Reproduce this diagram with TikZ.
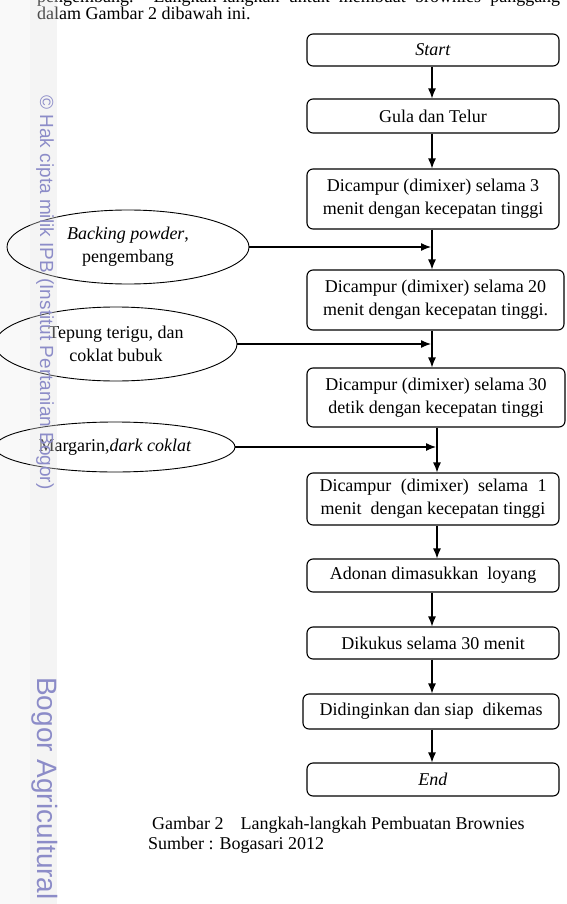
\documentclass[tikz,border=0pt]{standalone}
\usepackage{fontspec}
\setmainfont{Liberation Serif}
\newfontfamily\wmfont{Liberation Sans}
\usetikzlibrary{arrows.meta,shapes.geometric}
\definecolor{wm}{RGB}{140,140,200}
\begin{document}
\begin{tikzpicture}[x=1pt,y=-1pt,
  txt/.style={font=\fontsize{18}{23}\selectfont},
  box/.style={txt, draw, rounded corners=6pt, line width=1.1pt, minimum width=252pt, align=center, inner sep=2pt},
  ell/.style={txt, draw, ellipse, line width=0.9pt, align=center, inner sep=0pt},
  arr/.style={-{Latex[length=10pt,width=8pt]}, line width=1.2pt},
  plain/.style={txt, anchor=base west, inner sep=0pt},
  wmtxt/.style={rotate=-90, text=wm, inner sep=0pt}]
\useasboundingbox (0,0) rectangle (566,904);
\clip (0,0) rectangle (566,904);
\fill[gray!5] (0,0) rectangle (30,904);
\fill[gray!12] (30,0) rectangle (57,904);

% spine x positions
\coordinate (xa) at (432,0);
\coordinate (xb) at (437,0);

% top text
\node[plain] (t0) at (37,3) {\makebox[523pt][s]{pengembang. Langkah-langkah untuk membuat brownies panggang}};
\node[plain] (t1) at (37,20) {dalam Gambar 2 dibawah ini.};

% boxes
\node[box, minimum height=32pt] (start) at (433,50) {\textit{Start}};
\node[box, minimum height=34pt] (gula) at (433,116) {Gula dan Telur};
\node[box, minimum height=60pt] (d3) at (433,199) {Dicampur (dimixer) selama 3\\menit dengan kecepatan tinggi};
\node[box, minimum width=257pt, minimum height=60pt] (d20) at (435.5,300) {Dicampur (dimixer) selama 20\\menit dengan kecepatan tinggi.};
\node[box, minimum width=258pt, minimum height=59pt] (d30) at (436,397.5) {Dicampur (dimixer) selama 30\\detik dengan kecepatan tinggi};
\node[box, minimum height=52pt] (d1) at (433,499) {\makebox[227pt][s]{Dicampur (dimixer) selama 1}\\menit\ \ dengan kecepatan tinggi};
\node[box, minimum height=33pt] (adon) at (433,575.5) {Adonan dimasukkan\ \ loyang};
\node[box, minimum height=32pt] (kukus) at (433,643) {Dikukus selama 30 menit};
\node[box, minimum width=256pt, minimum height=35pt] (dingin) at (431,711.5) {Didinginkan dan siap\ \ dikemas};
\node[box, minimum height=33pt] (end) at (433,779.5) {\textit{End}};

% ellipses
\node[ell, minimum width=242pt, minimum height=74pt] (e1) at (128,247) {\textit{Backing powder},\\pengembang};
\node[ell, minimum width=242pt, minimum height=74pt] (e2) at (116,344) {Tepung terigu, dan\\coklat bubuk};
\node[ell, minimum width=240pt, minimum height=50pt] (e3) at (115,447) {Margarin,\textit{dark coklat}};

% connectors
\draw[arr] (start.south -| xa) -- (gula.north -| xa);
\draw[arr] (gula.south -| xa) -- (d3.north -| xa);
\draw[arr] (d3.south -| xa) -- (d20.north -| xa);
\draw[arr, shorten >=1pt] (e1.east) -- (e1.east -| xa);
\draw[arr] (d20.south -| xa) -- (d30.north -| xa);
\draw[arr, shorten >=1pt] (e2.east) -- (e2.east -| xa);
\draw[arr] (d30.south -| xb) -- (d1.north -| xb);
\draw[arr, shorten >=1pt] (e3.east) -- (e3.east -| xb);
\draw[arr] (d1.south -| xb) -- (adon.north -| xb);
\draw[arr] (adon.south -| xa) -- (kukus.north -| xa);
\draw[arr] (kukus.south -| xa) -- (dingin.north -| xa);
\draw[arr] (dingin.south -| xa) -- (end.north -| xa);

% caption
\node[plain] (c1) at (152,829) {Gambar 2\hspace{17pt}Langkah-langkah Pembuatan Brownies};
\node[plain] (c2) at (148,849) {Sumber : Bogasari 2012};

% watermark
\fill[white, opacity=0.3] (30,0) rectangle (57,904);
\node[wmtxt, font=\wmfont\fontsize{19}{19}\selectfont] (w1) at (45,292.5) {© Hak cipta milik IPB (Institut Pertanian Bogor)};
\node[wmtxt, anchor=west, font=\wmfont\fontsize{28}{28}\selectfont] (w2) at (45,677) {Bogor Agricultural};
\end{tikzpicture}
\end{document}
